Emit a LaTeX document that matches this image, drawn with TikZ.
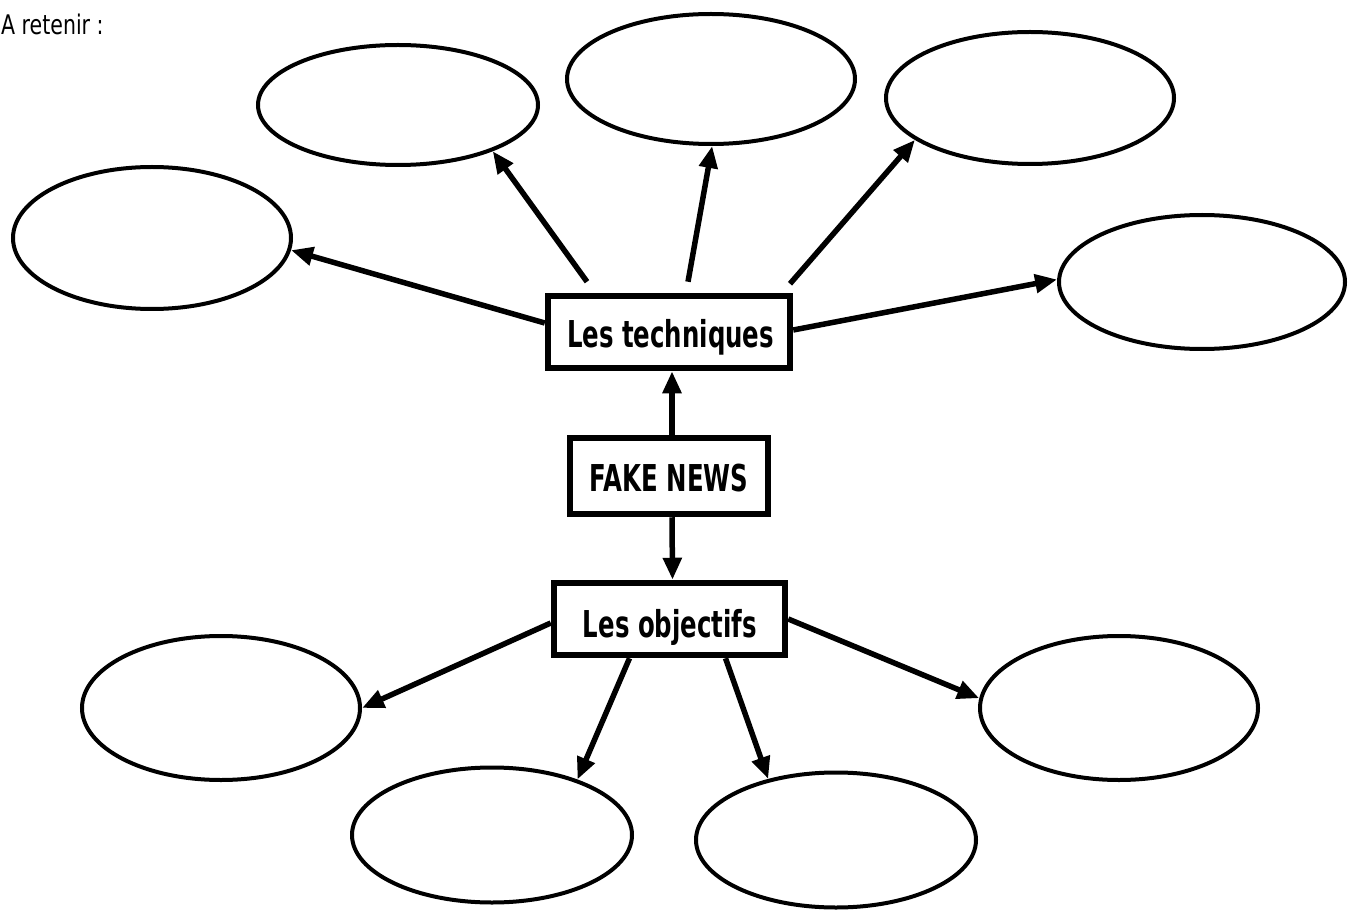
\documentclass[tikz,border=0pt]{standalone}
\usepackage{fontspec}
\setmainfont{DejaVu Sans}
\newfontfamily\smallf{DejaVu Sans}[FakeStretch=0.76]
\newfontfamily\boxf{DejaVu Sans}[FakeStretch=0.66]
\usetikzlibrary{shapes.geometric,arrows.meta}
\tikzset{
  bubble/.style={ellipse, draw=black, line width=4pt, inner sep=0pt},
  topicbox/.style={rectangle, draw=black, line width=6.5pt, inner sep=0pt},
  boxlabel/.style={anchor=base, inner sep=0pt, font=\boxf\bfseries\fontsize{37}{40}\selectfont},
  arr/.style={line width=5.5pt, -{Triangle[length=22pt,width=18pt]}},
}
\begin{document}
\begin{tikzpicture}[x=1pt,y=-1pt]
\useasboundingbox (0,0) rectangle (1360,917);
% title
\node[anchor=base west, inner sep=0pt, font=\smallf\fontsize{27}{30}\selectfont] (title) at (1,35) {A retenir :};
% boxes
\node[topicbox, minimum width=242pt, minimum height=72pt] (tech) at (669,332) {};
\node[boxlabel] (techt) at (670.5,348) {Les techniques};
\node[topicbox, minimum width=198pt, minimum height=76pt] (fake) at (669,476) {};
\node[boxlabel] (faket) at (669,491) {FAKE NEWS};
\node[topicbox, minimum width=231pt, minimum height=72pt] (obj) at (669.5,619) {};
\node[boxlabel] (objt) at (670,637) {Les objectifs};
% ellipses
\node[bubble, minimum width=280pt, minimum height=120pt] (e1) at (398,105) {};
\node[bubble, minimum width=288pt, minimum height=130pt] (e2) at (711,79) {};
\node[bubble, minimum width=288pt, minimum height=132pt] (e3) at (1030,98) {};
\node[bubble, minimum width=278pt, minimum height=142pt] (e4) at (152,238) {};
\node[bubble, minimum width=286pt, minimum height=134pt] (e5) at (1202,282) {};
\node[bubble, minimum width=278pt, minimum height=144pt] (e6) at (221,708) {};
\node[bubble, minimum width=280pt, minimum height=135pt] (e7) at (492,835) {};
\node[bubble, minimum width=280pt, minimum height=135pt] (e8) at (836,840) {};
\node[bubble, minimum width=278pt, minimum height=144pt] (e9) at (1119,708) {};
% start points
\coordinate (s1) at ([xshift=-82pt,yshift=11pt]tech.north);
\coordinate (s2) at ([xshift=19pt,yshift=11pt]tech.north);
\coordinate (s3) at ([xshift=121pt,yshift=9pt]tech.north);
\coordinate (s4) at ([yshift=9pt]tech.west);
\coordinate (s5) at ([yshift=2pt]tech.east);
\coordinate (o1) at ([yshift=-4pt]obj.west);
\coordinate (o2) at ([xshift=-40pt]obj.south);
\coordinate (o3) at ([xshift=56pt]obj.south);
\coordinate (o4) at (obj.east);
% arrows
\draw[arr] ([xshift=3pt]fake.north) -- ([xshift=3pt]tech.south);
\draw[arr] ([xshift=3pt]fake.south) -- ([xshift=3pt]obj.north);
\draw[arr] (s1) -- (e1.-26);
\draw[arr] (s2) -- (e2.-89);
\draw[arr] (s3) -- (e3.200);
\draw[arr] (s4) -- (e4.-5);
\draw[arr] (s5) -- (e5.179);
\draw[arr] (o1) -- (e6.0);
\draw[arr] (o2) -- (e7.33);
\draw[arr] (o3) -- (e8.138);
\draw[arr] (o4) -- (e9.176);
\end{tikzpicture}
\end{document}
